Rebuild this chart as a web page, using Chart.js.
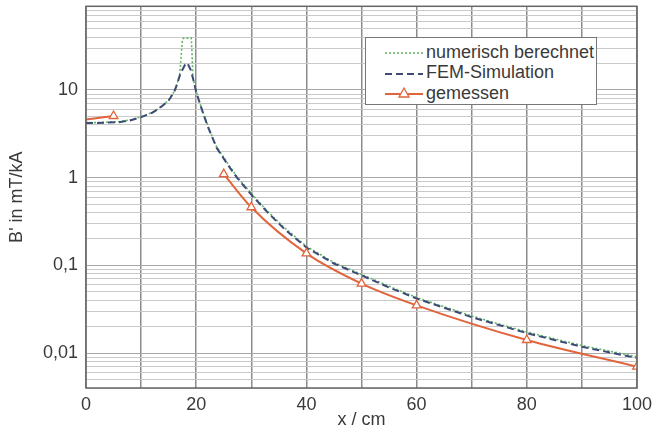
<!DOCTYPE html>
<html>
<head>
<meta charset="utf-8">
<script src="https://cdn.jsdelivr.net/npm/chart.js"></script>
<style>
    body { margin: 0; background: #fff; }
    #wrap { position: relative; width: 657px; height: 433px; }
    #legend {
        position: absolute; left: 365px; top: 37px; width: 232px; height: 68px;
        border: 1px solid #777; background: #fff; box-sizing: border-box;
        padding: 4px 0 0 18px;
        font-family: 'Liberation Sans', Arial, sans-serif; font-size: 18px; color: #3a3a3a;
    }
    #legend .row { display: flex; align-items: center; height: 20.5px; white-space: nowrap; }
    #legend svg { margin-right: 2px; }
</style>
</head>
<body>
<div id="wrap">
    <canvas id="chart" width="657" height="433"></canvas>
    <div id="legend"></div>
</div>
<script>
// numerisch berechnet
const numX = [0, 2, 4, 6, 8, 10, 12, 13, 14, 15, 16, 16.5, 17, 17.5, 17.7, 19.1, 19.2, 19.4, 20, 20.7, 21.5, 22.2, 23, 23.7, 25, 26.1, 27.4, 30, 33, 36, 40, 45, 50, 55, 60, 70, 80, 90, 100];
const numY = [4.25, 4.25, 4.3, 4.35, 4.55, 4.95, 5.55, 6.05, 6.75, 7.65, 9.6, 11.6, 15, 37, 39, 39, 30, 14, 9.7, 7.0, 5.0, 3.8, 2.85, 2.25, 1.7, 1.34, 1.03, 0.66, 0.41, 0.27, 0.165, 0.108, 0.079, 0.058, 0.043, 0.0265, 0.0174, 0.0122, 0.0091];

// FEM-Simulation
const femX = [0, 2, 4, 6, 8, 10, 12, 13, 14, 15, 16, 16.5, 17, 17.5, 18, 18.4, 19, 19.4, 20, 20.7, 21.5, 22.2, 23, 23.7, 25, 26.1, 27.4, 30, 33, 36, 40, 45, 50, 55, 60, 70, 80, 90, 100];
const femY = [4.2, 4.2, 4.25, 4.3, 4.5, 4.9, 5.5, 6.0, 6.7, 7.6, 9.5, 11.5, 14.5, 17, 19.5, 20.3, 17, 13.7, 9.5, 6.9, 4.9, 3.7, 2.8, 2.2, 1.65, 1.3, 1.0, 0.64, 0.4, 0.26, 0.16, 0.105, 0.077, 0.056, 0.042, 0.0257, 0.0169, 0.0118, 0.0088];

// gemessen (null = Lücke)
const measX = [0, 5, 15, 25, 30, 40, 50, 60, 80, 100];
const measY = [4.6, 5.05, null, 1.1, 0.46, 0.137, 0.062, 0.035, 0.0141, 0.007];

const xTicksLabelled = [0, 20, 40, 60, 80, 100];
const yDecades = [0.01, 0.1, 1, 10];
const yDecadeLabels = ['0,01', '0,1', '1', '10'];

const yMin = 0.004, yMax = 90;
const fontFamily = "'Liberation Sans', Arial, sans-serif";

function toPoints(xs, ys) {
    return xs.map((x, i) => ({ x: x, y: ys[i] }));
}

const frame = {
    id: 'frame',
    afterDraw(chart) {
        const a = chart.chartArea, c = chart.ctx;
        c.save();
        c.strokeStyle = '#666';
        c.lineWidth = 1.5;
        c.strokeRect(a.left, a.top, a.right - a.left, a.bottom - a.top);
        c.restore();
    }
};

const datasets = [
    {
        label: 'numerisch berechnet',
        data: toPoints(numX, numY),
        borderColor: '#62b862',
        borderWidth: 1.6,
        borderDash: [2, 2],
        pointRadius: 0,
        order: 2
    },
    {
        label: 'FEM-Simulation',
        data: toPoints(femX, femY),
        borderColor: '#3e4a78',
        borderWidth: 2,
        borderDash: [7, 4],
        pointRadius: 0,
        order: 1
    },
    {
        label: 'gemessen',
        data: toPoints(measX, measY),
        borderColor: '#e2643c',
        borderWidth: 2,
        pointStyle: 'triangle',
        pointRadius: ctx => ctx.dataIndex === 0 ? 0 : 5,
        pointBackgroundColor: '#fff',
        pointBorderColor: '#e2643c',
        pointBorderWidth: 1.3,
        cubicInterpolationMode: 'monotone',
        order: 0
    }
];

const chart = new Chart(document.getElementById('chart'), {
    type: 'line',
    data: { datasets: datasets },
    plugins: [frame],
    options: {
        responsive: false,
        animation: false,
        layout: { padding: { top: 5, right: 20, left: 0, bottom: 0 } },
        plugins: { legend: { display: false }, tooltip: { enabled: false } },
        scales: {
            x: {
                type: 'linear',
                min: 0,
                max: 100,
                afterFit: s => { s.height = 45; s.paddingLeft = 0; s.paddingRight = 0; },
                border: { display: false },
                grid: { color: '#8c8c8c', lineWidth: 1.5, drawTicks: false },
                ticks: {
                    stepSize: 10,
                    autoSkip: false,
                    maxRotation: 0,
                    padding: 6,
                    color: '#3a3a3a',
                    font: { family: fontFamily, size: 18 },
                    callback: v => xTicksLabelled.includes(v) ? String(v) : ''
                },
                title: {
                    display: true,
                    text: 'x / cm',
                    color: '#3a3a3a',
                    font: { family: fontFamily, size: 18 },
                    padding: { top: 0, bottom: 2 }
                }
            },
            y: {
                type: 'logarithmic',
                min: yMin,
                max: yMax,
                afterFit: s => { s.width = 86; s.paddingTop = 0; s.paddingBottom = 0; },
                afterBuildTicks: s => {
                    const t = [];
                    for (let e = -3; e <= 1; e++) {
                        for (let m = 1; m <= 9; m++) {
                            const v = +(m * Math.pow(10, e)).toPrecision(2);
                            if (v >= yMin && v <= yMax) t.push({ value: v });
                        }
                    }
                    s.ticks = t;
                },
                border: { display: false },
                grid: {
                    drawTicks: false,
                    lineWidth: 1,
                    color: ctx => yDecades.includes(ctx.tick && ctx.tick.value) ? '#a8a8a8' : '#c9c9c9'
                },
                ticks: {
                    autoSkip: false,
                    padding: 8,
                    color: '#3a3a3a',
                    font: { family: fontFamily, size: 18 },
                    callback: v => {
                        const i = yDecades.indexOf(v);
                        return i >= 0 ? yDecadeLabels[i] : '';
                    }
                },
                title: {
                    display: true,
                    text: "B' in mT/kA",
                    color: '#3a3a3a',
                    font: { family: fontFamily, size: 18 },
                    padding: 6
                }
            }
        }
    }
});

// HTML-Legende aus den Datensätzen
const legend = document.getElementById('legend');
datasets.forEach(ds => {
    const row = document.createElement('div');
    row.className = 'row';
    const dash = ds.borderDash ? ds.borderDash.join(',') : 'none';
    let marker = '';
    if (ds.pointStyle === 'triangle') {
        marker = '<polygon points="20,5 25,14 15,14" fill="#fff" stroke="' + ds.borderColor + '" stroke-width="1.3"/>';
    }
    row.innerHTML = '<svg width="40" height="20"><line x1="1" y1="11" x2="39" y2="11" stroke="' + ds.borderColor +
        '" stroke-width="' + ds.borderWidth + '" stroke-dasharray="' + dash + '"/>' + marker + '</svg><span>' + ds.label + '</span>';
    legend.appendChild(row);
});
</script>
</body>
</html>
